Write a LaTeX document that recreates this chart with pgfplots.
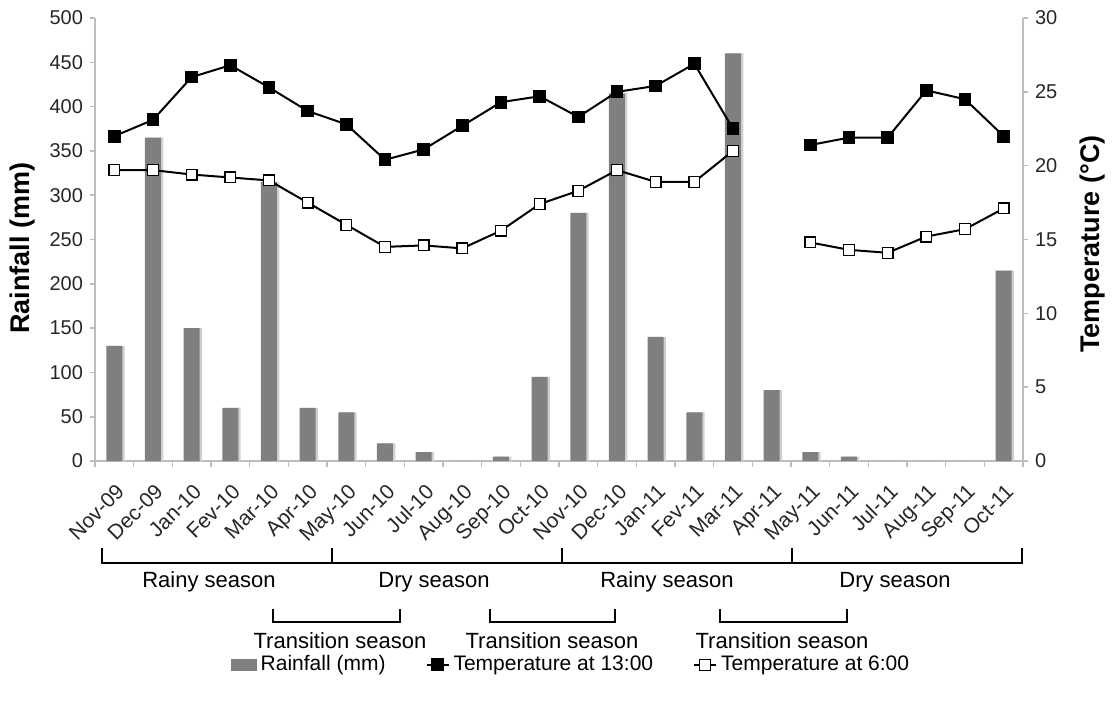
\documentclass[border=0pt]{standalone}
\usepackage{fontspec}
\setmainfont{Liberation Sans}
\usepackage{pgfplots}
\usepackage{pgfplotstable}
\pgfplotsset{compat=1.18}

\definecolor{bargray}{HTML}{7F7F7F}
\definecolor{shadow}{HTML}{CFCFCF}
\definecolor{axgray}{HTML}{BEBEBE}
\definecolor{txt}{HTML}{262626}

% month index, rainfall (mm), temperature at 13:00 and 6:00 (degC)
\pgfplotstableread{
x  rain t13  t6
0  130  22.0 19.7
1  365  23.1 19.7
2  150  26.0 19.4
3  60   26.8 19.2
4  315  25.3 19.0
5  60   23.7 17.5
6  55   22.8 16.0
7  20   20.4 14.5
8  10   21.1 14.6
9  0    22.7 14.4
10 5    24.3 15.6
11 95   24.7 17.4
12 280  23.3 18.3
13 415  25.0 19.7
14 140  25.4 18.9
15 55   26.9 18.9
16 460  22.5 21.0
17 80   nan  nan
18 10   21.4 14.8
19 5    21.9 14.3
20 0    21.9 14.1
21 0    25.1 15.2
22 0    24.5 15.7
23 215  22.0 17.1
}\datatable

\pgfplotsset{
  base/.style={
    at={(0,0)}, anchor=south west,
    scale only axis, width=464pt, height=221.5pt,
    xmin=-0.5, xmax=23.5,
    axis line style={axgray, line width=0.8pt},
    tick style={axgray, line width=0.8pt},
    tick align=outside,
    major tick length=2.5pt, minor tick length=3pt,
    tick label style={text=txt, font=\fontsize{10}{12}\selectfont},
    /pgf/number format/assume math mode=true,
  }
}

\begin{document}
\begin{tikzpicture}
\path[use as bounding box] (-47.5pt,-123.5pt) rectangle (510pt,230.5pt);

% rainfall, left axis
\begin{axis}[base,
  axis x line*=bottom, axis y line*=left,
  ymin=0, ymax=500, ytick={0,50,...,500},
  xtick={0,...,23}, major x tick style={draw=none},
  minor xtick={-0.5,0.5,...,23.5},
  xticklabels={Nov-09,Dec-09,Jan-10,Fev-10,Mar-10,Apr-10,May-10,Jun-10,Jul-10,Aug-10,Sep-10,Oct-10,Nov-10,Dec-10,Jan-11,Fev-11,Mar-11,Apr-11,May-11,Jun-11,Jul-11,Aug-11,Sep-11,Oct-11},
  x tick label style={rotate=45, anchor=north east, font=\fontsize{10.5}{12}\selectfont, inner sep=1pt, yshift=-5pt, xshift=-4.5pt},
  ylabel={Rainfall (mm)},
  ylabel style={at={(axis description cs:-0.0776,0.48)}, anchor=center, font=\fontsize{13.5}{15}\selectfont\bfseries},
]
\addplot[ybar, bar width=8pt, bar shift=1.2pt, fill=shadow, draw=none] table[x=x, y=rain] {\datatable};
\addplot[ybar, bar width=8pt, fill=bargray, draw=none] table[x=x, y=rain] {\datatable};
\end{axis}

% temperatures, right axis
\begin{axis}[base,
  axis x line=none, axis y line*=right,
  ymin=0, ymax=30, ytick={0,5,...,30},
  unbounded coords=jump,
  ylabel={Temperature (°C)},
  ylabel style={at={(axis description cs:1.075,0.49)}, anchor=center, font=\fontsize{13.5}{15}\selectfont\bfseries},
  legend columns=3,
  legend style={draw=none, at={(axis description cs:0.514,-0.46)}, anchor=center,
    font=\fontsize{10.5}{12}\selectfont, inner sep=0pt,
    /tikz/every even column/.append style={column sep=18pt}},
  legend image code/.code={\draw[mark repeat=2, mark phase=2, #1] plot coordinates {(0pt,0pt) (5.5pt,0pt) (11pt,0pt)};},
]
\addlegendimage{legend image code/.code={\fill[bargray] (0pt,-2.8pt) rectangle (12.5pt,2.8pt);}}
\addlegendentry{Rainfall (mm)}
\addplot[black, line width=1pt, mark=square*, mark size=2.7pt, mark options={fill=black, solid}] table[x=x, y=t13] {\datatable};
\addlegendentry{Temperature at 13:00}
\addplot[black, line width=1pt, mark=square*, mark size=2.7pt, mark options={fill=white, draw=black, line width=0.6pt, solid}] table[x=x, y=t6] {\datatable};
\addlegendentry{Temperature at 6:00}
\end{axis}

% season brackets
\begin{scope}[line width=1.3pt, black]
\draw (3.5pt,-43.5pt) -- (3.5pt,-51pt) -- (463.5pt,-51pt) -- (463.5pt,-43.5pt);
\foreach \xx in {118.5,233.5,348.5} \draw (\xx pt,-43.5pt) -- (\xx pt,-51pt);
\foreach \a/\b in {89/152.5, 197.5/260, 312.5/376}
  \draw (\a pt,-74pt) -- (\a pt,-80.5pt) -- (\b pt,-80.5pt) -- (\b pt,-74pt);
\end{scope}
\begin{scope}[font=\fontsize{11}{13}\selectfont]
\node at (57pt,-60.5pt) {Rainy season};
\node at (169.5pt,-60.5pt) {Dry season};
\node at (286pt,-60.5pt) {Rainy season};
\node at (400pt,-60.5pt) {Dry season};
\node at (122.5pt,-90pt) {Transition season};
\node at (228.5pt,-90pt) {Transition season};
\node at (343.5pt,-90pt) {Transition season};
\end{scope}
\end{tikzpicture}
\end{document}
